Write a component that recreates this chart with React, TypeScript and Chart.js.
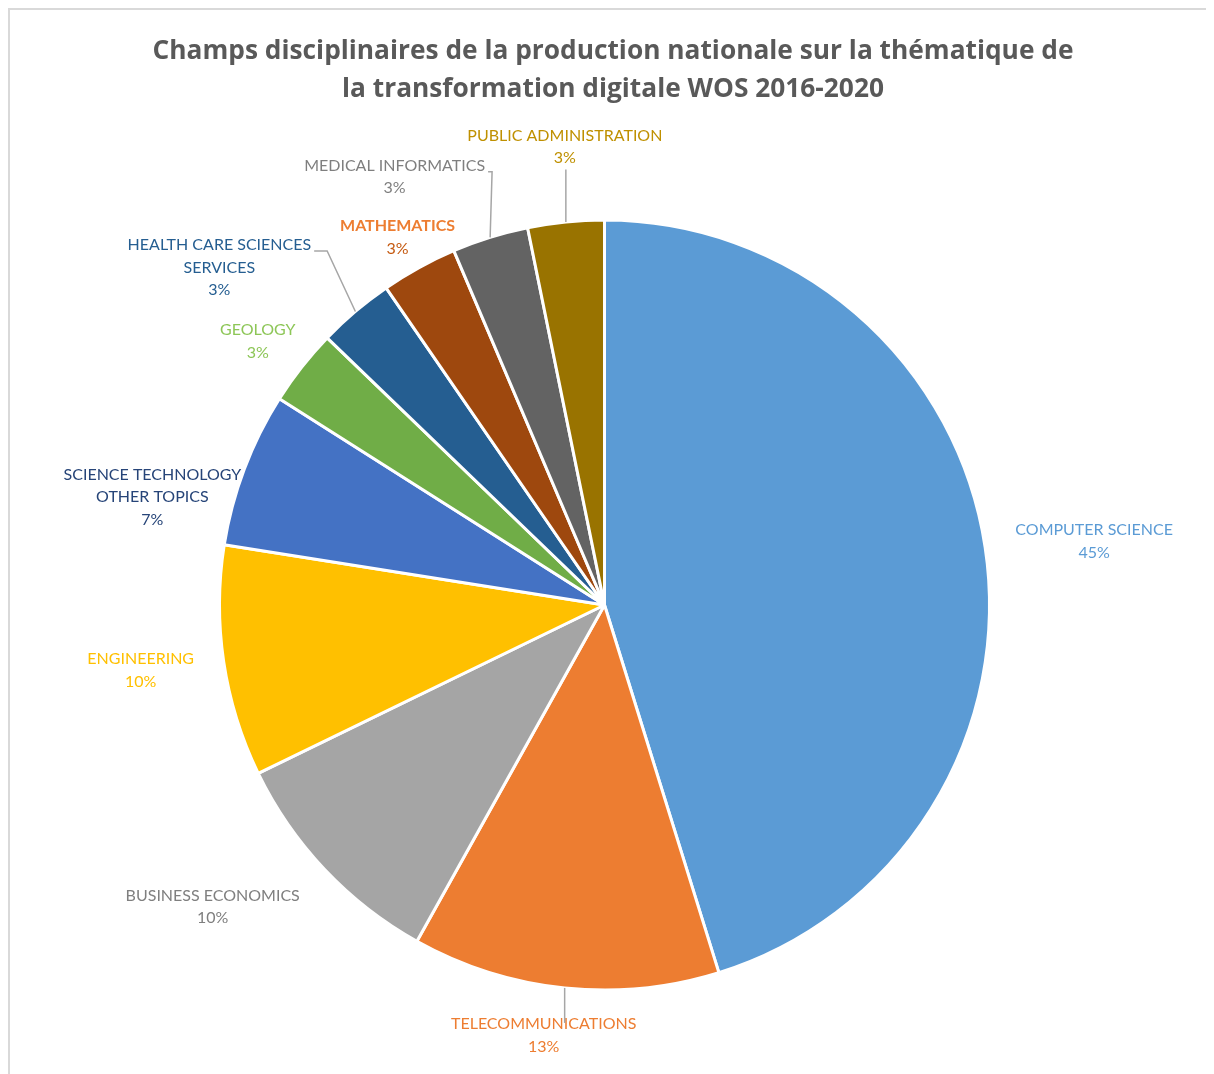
import React, { useEffect, useRef } from 'react';
import { Chart, registerables } from 'chart.js';

Chart.register(...registerables);

const titleLines = [
  'Champs disciplinaires de la production nationale sur la thématique de',
  'la transformation digitale WOS 2016-2020',
];

const categories = [
  ['COMPUTER SCIENCE'],
  ['TELECOMMUNICATIONS'],
  ['BUSINESS ECONOMICS'],
  ['ENGINEERING'],
  ['SCIENCE TECHNOLOGY', 'OTHER TOPICS'],
  ['GEOLOGY'],
  ['HEALTH CARE SCIENCES', 'SERVICES'],
  ['MATHEMATICS'],
  ['MEDICAL INFORMATICS'],
  ['PUBLIC ADMINISTRATION'],
];

const shares = [45.2, 12.9, 9.7, 9.7, 6.5, 3.2, 3.2, 3.2, 3.2, 3.2];

const sliceColors = [
  '#5B9BD5', '#ED7D31', '#A5A5A5', '#FFC000', '#4472C4',
  '#70AD47', '#255E91', '#9E480E', '#636363', '#997300',
];

const nameColors = [
  '#5B9BD5', '#ED7D31', '#7F7F7F', '#FFC000', '#264478',
  '#8DC657', '#255E91', '#ED7D31', '#7F7F7F', '#BF9000',
];

const percentColors = [
  '#5B9BD5', '#ED7D31', '#7F7F7F', '#FFC000', '#264478',
  '#8DC657', '#255E91', '#C55A11', '#7F7F7F', '#BF9000',
];

const nameBold = [false, false, false, false, false, false, false, true, false, false];

// label block centre offset from the slice's outer mid point (px)
const labelOffsets = [
  [109, -6], [-21, 47.5], [-112, 37.5], [-83, 8.5], [-92, 28],
  [-44, -26], [-136, -44], [-21.5, -30.5], [-95.5, -60.5], [-1, -75],
];

// leader line style per label
const leaderKinds = [null, 'up', null, null, null, null, 'side', null, 'side', 'down'];
const leaderElbows = [0, 0, 0, 0, 0, 0, 13, 0, 4, 0];

const FONT = 'Lato, "Open Sans", sans-serif';
const TITLE_FONT = '"Open Sans", Lato, sans-serif';
const LABEL_SIZE = 16;
const LINE_H = 22.5;

const titlePlugin = {
  id: 'customTitle',
  afterDraw(chart: any) {
    const ctx = chart.ctx;
    ctx.save();
    ctx.fillStyle = '#595959';
    ctx.font = `bold 26.3px ${TITLE_FONT}`;
    ctx.textAlign = 'center';
    ctx.textBaseline = 'alphabetic';
    titleLines.forEach((t, i) => {
      ctx.fillText(t, chart.width / 2 + 1, 49 + i * 37.5);
    });
    ctx.restore();
  },
};

const labelPlugin = {
  id: 'outerLabels',
  afterDatasetsDraw(chart: any) {
    const ctx = chart.ctx;
    const meta = chart.getDatasetMeta(0);
    meta.data.forEach((arc: any, i: number) => {
      const { x, y, startAngle, endAngle, outerRadius } = arc.getProps(
        ['x', 'y', 'startAngle', 'endAngle', 'outerRadius'],
        true
      );
      const mid = (startAngle + endAngle) / 2;
      const ax = x + Math.cos(mid) * outerRadius;
      const ay = y + Math.sin(mid) * outerRadius;
      const cx = ax + labelOffsets[i][0];
      const cy = ay + labelOffsets[i][1];
      const names = categories[i];
      const pct = Math.round(shares[i]) + '%';
      const lines = [...names, pct];
      const top = cy - (lines.length * LINE_H) / 2;

      ctx.save();
      ctx.textAlign = 'center';
      ctx.textBaseline = 'middle';
      let maxW = 0;
      lines.forEach((ln, k) => {
        const isPct = k === lines.length - 1;
        ctx.font = `${!isPct && nameBold[i] ? 'bold ' : ''}${LABEL_SIZE}px ${FONT}`;
        ctx.fillStyle = isPct ? percentColors[i] : nameColors[i];
        ctx.fillText(ln, cx, top + LINE_H * (k + 0.5));
        maxW = Math.max(maxW, ctx.measureText(ln).width);
      });

      const kind = leaderKinds[i];
      if (kind) {
        ctx.strokeStyle = '#A6A6A6';
        ctx.lineWidth = 1.5;
        ctx.beginPath();
        if (kind === 'down') {
          ctx.moveTo(ax, ay);
          ctx.lineTo(ax, top + lines.length * LINE_H);
        } else if (kind === 'up') {
          ctx.moveTo(ax, ay);
          ctx.lineTo(ax, top + 10);
        } else {
          const right = cx + maxW / 2 + 3;
          const ly = top + LINE_H / 2 + 6;
          ctx.moveTo(right, ly);
          ctx.lineTo(right + leaderElbows[i], ly);
          ctx.lineTo(ax, ay);
        }
        ctx.stroke();
      }
      ctx.restore();
    });
  },
};

export default function App() {
  const ref = useRef<HTMLCanvasElement | null>(null);

  useEffect(() => {
    document.documentElement.style.overflow = 'hidden';
    if (!ref.current) return;
    Chart.defaults.font.family = FONT;
    const chart = new Chart(ref.current, {
      type: 'pie',
      data: {
        labels: categories.map((c) => c.join(' ')),
        datasets: [
          {
            data: shares,
            backgroundColor: sliceColors,
            borderColor: '#FFFFFF',
            borderWidth: 3,
          },
        ],
      },
      options: {
        responsive: false,
        animation: false,
        devicePixelRatio: 1,
        layout: { padding: { top: 208.5, bottom: 82.5, left: 0, right: 15 } },
        plugins: {
          legend: { display: false },
          tooltip: { enabled: false },
          title: { display: false },
        },
      },
      plugins: [labelPlugin, titlePlugin],
    });
    return () => chart.destroy();
  }, []);

  return (
    <div
      style={{
        width: 1206,
        height: 1066,
        borderTop: '2px solid #D9D9D9',
        borderLeft: '2px solid #D9D9D9',
        boxSizing: 'border-box',
        background: '#FFFFFF',
        overflow: 'hidden',
      }}
    >
      <canvas ref={ref} width={1204} height={1064} style={{ display: 'block', width: 1204, height: 1064 }} />
    </div>
  );
}
